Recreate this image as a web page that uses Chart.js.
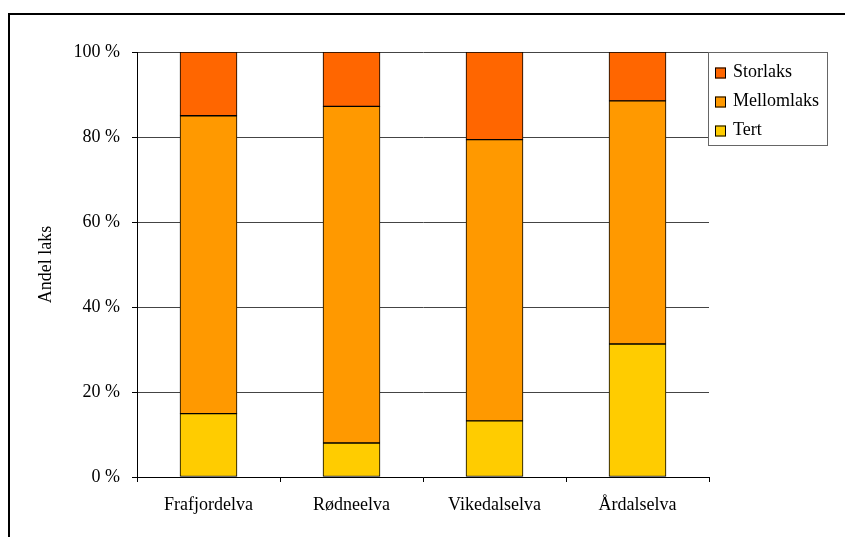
<!DOCTYPE html>
<html>
<head>
<meta charset="utf-8">
<script src="https://cdn.jsdelivr.net/npm/chart.js@4/dist/chart.umd.min.js"></script>
<style>
    html, body { margin: 0; padding: 0; background: #fff; overflow: hidden; }
    #wrap { position: relative; width: 845px; height: 537px; }
    #frame {
        position: absolute; left: 8px; top: 13px; width: 900px; height: 600px;
        border-left: 2px solid #000; border-top: 2px solid #000;
    }
    canvas { position: absolute; left: 0; top: 0; }
</style>
</head>
<body>
<div id="wrap">
    <div id="frame"></div>
    <canvas id="chart" width="845" height="537"></canvas>
</div>
<script>
const rivers     = ['Frafjordelva', 'Rødneelva', 'Vikedalselva', 'Årdalselva'];
const tert       = [14.9, 8.0, 13.2, 31.3];
const mellomlaks = [70.1, 79.2, 66.2, 57.2];
const storlaks   = [15.0, 12.8, 20.6, 11.5];
const yTicks     = [0, 20, 40, 60, 80, 100];

const FONT = { family: '"Liberation Serif", "Times New Roman", serif', size: 18 };

// legend box drawn by hand, top right of the plot, like the spreadsheet one
const boxLegend = {
    id: 'boxLegend',
    afterDraw(chart) {
        const { ctx, chartArea } = chart;
        const x = chartArea.right - 1, y = chartArea.top + 0.5;
        const w = 119, h = 93;
        ctx.save();
        ctx.fillStyle = '#fff';
        ctx.fillRect(x, y, w, h);
        ctx.strokeStyle = '#666';
        ctx.lineWidth = 1;
        ctx.strokeRect(x + 0.5, y, w, h);
        ctx.font = `${FONT.size}px ${FONT.family}`;
        ctx.textBaseline = 'middle';
        const items = chart.data.datasets.slice().reverse();
        items.forEach((ds, i) => {
            const cy = Math.round(y + 20 + i * 29.4);
            ctx.fillStyle = ds.backgroundColor;
            ctx.fillRect(x + 7, cy - 5.5, 11, 11);
            ctx.strokeStyle = '#000';
            ctx.strokeRect(x + 7.5, cy - 5, 10, 10);
            ctx.fillStyle = '#000';
            ctx.fillText(ds.label, x + 25, cy - 1);
        });
        ctx.restore();
    },
};

const bar = (label, data, color) => ({
    label, data,
    backgroundColor: color,
    borderColor: '#000',
    borderWidth: 1,
    borderSkipped: false,
    barThickness: 57,
});

new Chart(document.getElementById('chart'), {
    type: 'bar',
    data: {
        labels: rivers,
        datasets: [
            bar('Tert', tert, '#FFCC00'),
            bar('Mellomlaks', mellomlaks, '#FF9900'),
            bar('Storlaks', storlaks, '#FF6600'),
        ],
    },
    options: {
        responsive: false,
        animation: false,
        layout: { padding: { left: 0, top: 52, right: 136, bottom: 0 } },
        plugins: { legend: { display: false }, tooltip: { enabled: false } },
        scales: {
            x: {
                stacked: true,
                grid: { offset: true, drawOnChartArea: false, drawTicks: true, tickLength: 5, color: '#000' },
                border: { color: '#000', width: 1 },
                ticks: { color: '#000', font: FONT, padding: 12, maxRotation: 0 },
                afterFit: (s) => { s.height = 60; },
            },
            y: {
                stacked: true,
                min: 0,
                max: 100,
                afterBuildTicks: (s) => { s.ticks = yTicks.map(v => ({ value: v })); },
                grid: { color: '#444', tickLength: 5, tickColor: '#000' },
                border: { color: '#000', width: 1 },
                ticks: { color: '#000', font: FONT, padding: 12, callback: (v) => v + ' %' },
                title: { display: true, text: 'Andel laks', color: '#000', font: FONT, padding: { top: 35, bottom: 0 } },
                afterFit: (s) => { s.width = 137; },
            },
        },
    },
    plugins: [boxLegend],
});
</script>
</body>
</html>
